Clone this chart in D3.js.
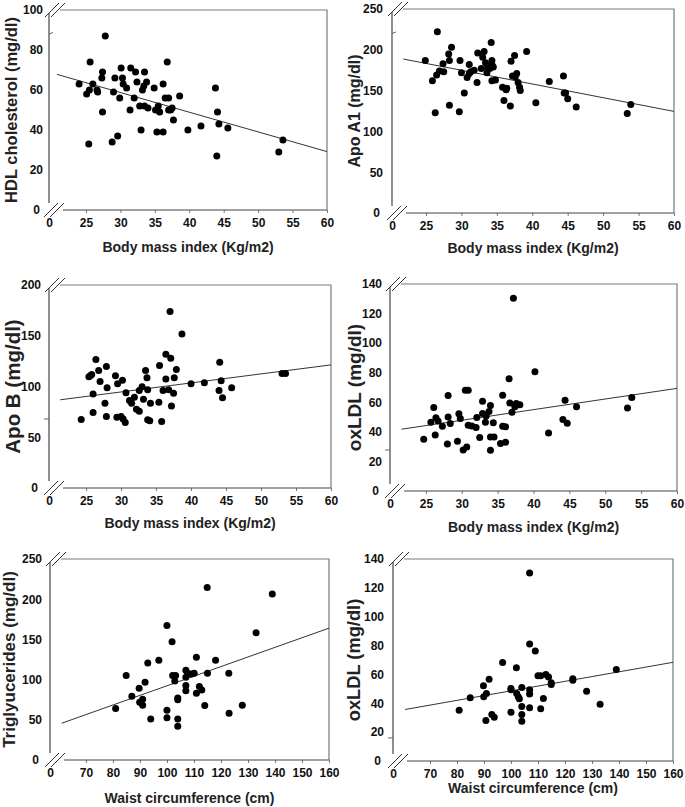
<!DOCTYPE html>
<html>
<head>
<meta charset="utf-8">
<script src="https://cdn.jsdelivr.net/npm/d3@7"></script>
<style>
  html, body { margin: 0; padding: 0; background: #fff; }
  svg { display: block; font-family: "Liberation Sans", Arial, sans-serif; }
</style>
</head>
<body>
<svg id="chart" width="685" height="807"></svg>
<script>
// ---------------- data ----------------
const bmiTicks = [25, 30, 35, 40, 45, 50, 55, 60];
const waistTicks = [70, 80, 90, 100, 110, 120, 130, 140, 150, 160];
const hdlTicks = [0, 20, 40, 60, 80, 100];
const apoA1Ticks = [0, 50, 100, 150, 200, 250];
const apoBTicks = [0, 50, 100, 150, 200];
const oxTicks = [0, 20, 40, 60, 80, 100, 120, 140];
const tgTicks = [0, 50, 100, 150, 200, 250];

const bmiHDL = [[24.0,63],[25.1,58],[25.5,60],[25.6,74],[25.4,33],[26.0,63],[26.6,60],[26.7,59],[27.3,66],[27.4,69],[27.4,49],[27.8,87],[28.8,34],[29.0,59],[29.2,66],[29.6,37],[29.9,56],[30.1,71],[30.3,66],[30.4,63],[30.9,61],[31.4,50],[31.5,71],[32.0,56],[32.2,69],[32.4,64],[32.8,52],[33.0,40],[33.2,60],[33.4,62],[33.5,69],[33.5,52],[33.8,64],[34.0,51],[34.9,61],[35.1,50],[35.3,39],[35.5,52],[35.7,49],[36.2,63],[36.2,39],[36.5,56],[36.8,74],[37.0,56],[37.0,50],[37.3,50],[37.5,51],[37.7,45],[38.6,57],[39.8,40],[41.7,42],[43.8,61],[44.0,27],[44.1,49],[44.3,43],[45.6,41],[53.0,29],[53.6,35]];
const bmiApoA1 = [[24.9,187],[25.9,162],[26.3,123],[26.5,169],[26.6,222],[26.9,174],[27.4,183],[27.5,173],[28.2,195],[28.3,187],[28.3,132],[28.6,203],[29.7,124],[29.8,187],[30.0,172],[30.4,147],[30.8,166],[31.1,171],[31.1,182],[31.3,173],[31.8,175],[32.2,160],[32.3,196],[32.8,177],[33.0,191],[33.2,198],[33.4,184],[33.6,172],[33.7,178],[34.0,177],[34.2,209],[34.3,187],[34.3,182],[34.3,162],[34.5,179],[34.8,163],[35.8,154],[36.0,138],[36.3,151],[36.4,153],[36.9,131],[37.0,186],[37.2,168],[37.5,193],[37.6,167],[37.8,171],[38.0,160],[38.2,154],[38.3,150],[39.2,198],[40.5,135],[42.4,161],[44.4,168],[44.5,147],[44.7,147],[45.0,140],[46.2,130],[53.4,122],[53.9,133]];
const bmiApoB = [[24.3,67.5],[25.4,109.5],[25.6,110.5],[25.8,111.8],[26.0,92.5],[26.0,74.4],[26.4,126.6],[26.8,115.7],[27.0,104.9],[27.7,83.6],[27.9,119.7],[27.9,70.5],[28.0,98.7],[29.2,110.5],[29.4,69.8],[29.5,102.6],[30.0,70.5],[30.2,106.2],[30.3,67.9],[30.6,64.6],[30.7,93.8],[31.2,86.2],[31.5,83.6],[31.9,89.5],[32.2,77.7],[32.6,75.7],[32.6,96.1],[33.0,99.7],[33.2,87.5],[33.5,115.7],[33.7,108.5],[33.8,67.2],[33.8,96.7],[34.1,66.2],[34.2,83.6],[35.4,84.6],[35.5,120.7],[35.8,65.6],[36.0,96.1],[36.4,131.8],[36.4,107.5],[36.8,96.7],[37.0,173.8],[37.1,127.9],[37.2,80.7],[37.5,93.4],[37.6,108.5],[37.9,116.7],[38.7,151.8],[40.0,102.6],[41.9,103.6],[44.0,96.1],[44.1,123.9],[44.3,105.6],[44.5,88.9],[45.8,98.7],[53.0,112.8],[53.5,112.8]];
const bmiOxLDL = [[24.7,35],[25.7,46.5],[26.1,56.5],[26.3,37.9],[26.4,49.5],[26.7,47.4],[27.3,43.8],[28.0,31.8],[28.1,50.1],[28.1,64.6],[28.4,45.6],[29.4,33.6],[29.6,52.2],[29.8,49],[30.2,27.8],[30.5,68.2],[30.7,29.8],[30.9,68.2],[30.9,44.5],[31.4,44],[32.0,42.9],[32.1,49.7],[32.5,36.1],[32.9,60.7],[32.9,52.4],[33.3,46.5],[33.4,50.8],[33.8,53.7],[34.0,57.8],[34.0,27.5],[34.0,36.6],[34.4,46.1],[34.5,36.6],[35.4,32.1],[35.7,43.8],[35.7,64.8],[36.1,43.4],[36.1,33],[36.6,75.9],[36.7,59.6],[37.0,53.3],[37.2,130.3],[37.4,56.9],[37.6,59.2],[37.8,58.3],[38.1,58.3],[40.2,80.6],[42.1,39.3],[44.1,48.3],[44.4,61.4],[44.7,45.8],[46.0,56.9],[53.1,56.2],[53.7,63.2]];
const waistTG = [[81.0,64],[84.9,105],[87.0,79.3],[89.7,89.3],[89.9,71.8],[91.0,75.6],[91.0,68.1],[91.9,96.8],[92.9,120.8],[94.0,51.1],[97.0,124.2],[100.0,167.4],[100.0,61.9],[100.0,52.7],[101.9,147],[102.1,105],[102.9,98.4],[103.2,105],[104.0,51.1],[104.0,41.9],[104.0,77.2],[104.0,74.8],[107.0,111.7],[107.0,92.6],[107.0,86],[107.0,103],[107.7,108],[109.1,107.1],[110.1,108],[110.9,127.9],[110.9,83.1],[112.0,91.4],[112.9,87.2],[114.0,67.7],[114.9,214.7],[115.0,108],[118.0,124.2],[122.9,108],[123.0,58.1],[127.9,68.1],[133.0,158.2],[139.0,206.4]];
const waistOxLDL = [[80.8,35.2],[84.9,43.8],[89.8,52.2],[89.9,44.5],[90.9,46.8],[90.7,28],[91.9,56.6],[92.9,32.2],[93.8,30.4],[96.9,68.2],[100.0,50.3],[100.0,49.4],[100.0,33.8],[102.0,64.7],[102.1,46.8],[102.7,44.5],[103.1,43.1],[104.0,51],[104.0,37.8],[104.0,32.2],[104.0,27.6],[106.9,130.3],[106.9,81.1],[106.9,49.4],[106.9,46.4],[106.9,36.9],[109.0,76.3],[110.0,59.1],[111.0,59.1],[111.0,36.2],[112.0,43.3],[112.9,60],[113.9,58.2],[114.9,54.2],[114.9,53.1],[122.9,57],[122.9,55.9],[128.0,48.4],[133.0,39.4],[139.0,63.5]];

// regression line end points [x1, y1, x2, y2]
const fitHDL = [20.8, 67.8, 60, 29.2];
const fitApoA1 = [21.8, 188.7, 60, 124.5];
const fitApoB = [21.3, 86.9, 60, 121.3];
const fitOxBMI = [21.6, 41.8, 60, 69.4];
const fitTG = [61.0, 45.7, 160, 164];
const fitOxWaist = [60.8, 35.7, 160, 68.4];

const xTitleBMI = "Body mass index (Kg/m2)";
const xTitleWaist = "Waist circumference (cm)";

// ---------------- layout ----------------
const panels = [
  { pts: bmiHDL, fit: fitHDL, xt: bmiTicks, yt: hdlTicks, xTitle: xTitleBMI, yTitle: "HDL cholesterol (mg/dl)",
    left: 49, right: 327, top: 10, bottom: 210, xStart: 19.63, yTitleX: 11, yTitleSize: 16.5, xTitleDy: 42, mark: 88, yPad: 6 },
  { pts: bmiApoA1, fit: fitApoA1, xt: bmiTicks, yt: apoA1Ticks, xTitle: xTitleBMI, yTitle: "Apo A1 (mg/dl)",
    left: 392, right: 674, top: 9, bottom: 213, xStart: 20.2, yTitleX: 354, yTitleSize: 16, xTitleDy: 40, mark: 220, yPad: 9 },
  { pts: bmiApoB, fit: fitApoB, xt: bmiTicks, yt: apoBTicks, xTitle: xTitleBMI, yTitle: "Apo B (mg/dl)",
    left: 49, right: 331, top: 285, bottom: 488, xStart: 19.7, yTitleX: 12, yTitleSize: 20.5, xTitleDy: 40, mark: 68, markLeft: true, yPad: 8 },
  { pts: bmiOxLDL, fit: fitOxBMI, xt: bmiTicks, yt: oxTicks, xTitle: xTitleBMI, yTitle: "oxLDL (mg/dl)",
    left: 390, right: 677, top: 284, bottom: 491, xStart: 20.0, yTitleX: 354, yTitleSize: 19, xTitleDy: 41, mark: 27.7, markLeft: true, yPad: 8 },
  { pts: waistTG, fit: fitTG, xt: waistTicks, yt: tgTicks, xTitle: xTitleWaist, yTitle: "Triglyucerides (mg/dl)",
    left: 50, right: 329, top: 559, bottom: 760, xStart: 56.7, yTitleX: 9, yTitleSize: 17, xTitleDy: 43, mark: null, yPad: 8 },
  { pts: waistOxLDL, fit: fitOxWaist, xt: waistTicks, yt: oxTicks, xTitle: xTitleWaist, yTitle: "oxLDL (mg/dl)",
    left: 393, right: 673, top: 559, bottom: 761, xStart: 56.3, yTitleX: 353, yTitleSize: 18.3, xTitleDy: 32, mark: 16, markLeft: true, yPad: 9 }
];

const svg = d3.select("#chart");
const axisColor = "#444";
const frameColor = "#7a7a7a";

panels.forEach(p => {
  const xEnd = p.xt[p.xt.length - 1];
  const yMax = p.yt[p.yt.length - 1];
  const x = d3.scaleLinear().domain([p.xStart, xEnd]).range([p.left, p.right]);
  const y = d3.scaleLinear().domain([0, yMax]).range([p.bottom, p.top]);
  const g = svg.append("g");

  // frame (top and right)
  g.append("path")
    .attr("d", `M${p.left + 11},${p.top}H${p.right}V${p.bottom}`)
    .attr("fill", "none").attr("stroke", frameColor).attr("stroke-width", 1.2);

  // x axis
  const xAxis = d3.axisBottom(x)
    .tickValues([p.xStart].concat(p.xt))
    .tickFormat(d => d === p.xStart ? "0" : d)
    .tickSizeInner(3).tickSizeOuter(0).tickPadding(5);
  const gx = g.append("g").attr("transform", `translate(0,${p.bottom})`).call(xAxis);
  gx.select(".domain").remove();
  gx.selectAll(".tick line").attr("stroke", frameColor)
    .filter(d => d === p.xStart).remove();
  gx.selectAll(".tick text").attr("font-size", 12).attr("font-weight", "bold").attr("fill", "#111")
    .attr("font-family", "Liberation Sans, Arial, sans-serif");
  g.append("line").attr("x1", p.left + 14).attr("x2", p.right)
    .attr("y1", p.bottom).attr("y2", p.bottom).attr("stroke", axisColor).attr("stroke-width", 1.2);

  // y axis
  const yAxis = d3.axisLeft(y).tickValues(p.yt).tickSize(0).tickPadding(p.yPad);
  const gy = g.append("g").attr("transform", `translate(${p.left},0)`).call(yAxis);
  gy.select(".domain").remove();
  gy.selectAll(".tick text").attr("font-size", 12).attr("font-weight", "bold").attr("fill", "#111")
    .attr("font-family", "Liberation Sans, Arial, sans-serif")
    .filter(d => d === 0).attr("dx", -3);
  g.append("line").attr("x1", p.left).attr("x2", p.left)
    .attr("y1", p.top + 3).attr("y2", p.bottom - 7).attr("stroke", axisColor).attr("stroke-width", 1.2);

  // small stray tick on the y axis
  if (p.mark !== null) {
    const my = y(p.mark);
    g.append("line")
      .attr("x1", p.markLeft ? p.left - 5 : p.left).attr("x2", p.markLeft ? p.left : p.left + 4)
      .attr("y1", my).attr("y2", p.markLeft ? my : my - 1.5)
      .attr("stroke", "#666").attr("stroke-width", 1);
  }

  // axis breaks
  const brk = (cx, cy) => {
    [-3, 3].forEach(dx => {
      g.append("line")
        .attr("x1", cx + dx - 7).attr("y1", cy + 7)
        .attr("x2", cx + dx + 7).attr("y2", cy - 7)
        .attr("stroke", "#333").attr("stroke-width", 1);
    });
  };
  brk(p.left + 6, p.top);
  brk(p.left + 5, p.bottom);

  // regression line
  g.append("line")
    .attr("x1", x(p.fit[0])).attr("y1", y(p.fit[1]))
    .attr("x2", x(p.fit[2])).attr("y2", y(p.fit[3]))
    .attr("stroke", "#333").attr("stroke-width", 1);

  // points
  g.selectAll("circle.pt").data(p.pts).enter().append("circle")
    .attr("class", "pt")
    .attr("cx", d => x(d[0])).attr("cy", d => y(d[1]))
    .attr("r", 3.5).attr("fill", "#000");

  // titles
  g.append("text")
    .attr("x", (p.left + p.right) / 2).attr("y", p.bottom + p.xTitleDy)
    .attr("text-anchor", "middle").attr("font-size", 14).attr("font-weight", "bold").attr("fill", "#222")
    .text(p.xTitle);
  g.append("text")
    .attr("transform", `translate(${p.yTitleX},${(p.top + p.bottom) / 2}) rotate(-90)`)
    .attr("text-anchor", "middle").attr("dominant-baseline", "central")
    .attr("font-size", p.yTitleSize).attr("font-weight", "bold").attr("fill", "#222")
    .text(p.yTitle);
});
</script>
</body>
</html>
